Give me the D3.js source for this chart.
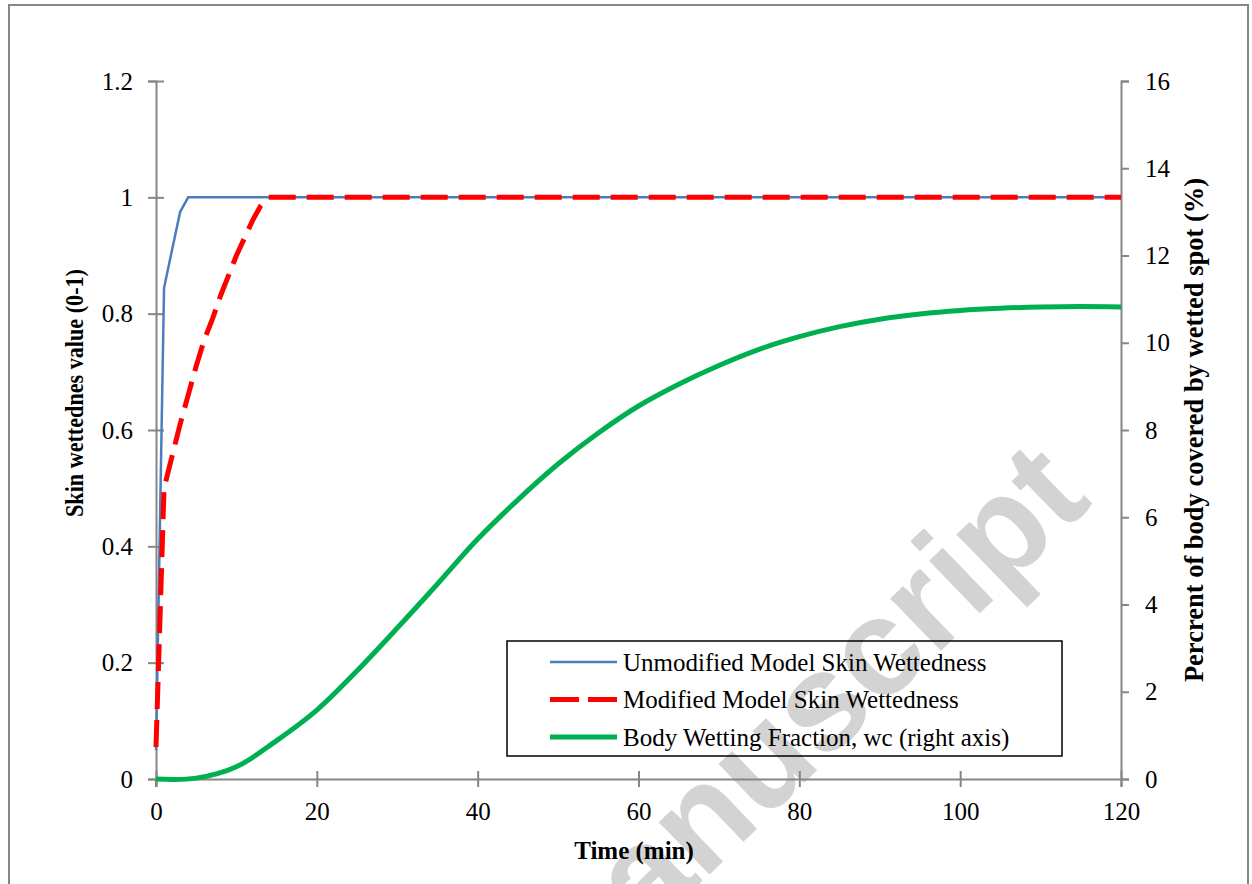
<!DOCTYPE html>
<html>
<head>
<meta charset="utf-8">
<script src="https://cdn.jsdelivr.net/npm/d3@7"></script>
<style>
  body { margin: 0; background: #fff; }
  svg text { font-family: "Liberation Serif", "Times New Roman", serif; fill: #000; }
</style>
</head>
<body>
<div id="chart"></div>
<script>
// time (min) and values
const unmodTime = [0, 1, 2, 3, 4, 120];
const unmodWet = [0.05, 0.844, 0.91, 0.975, 1.0, 1.0];

const modTime = [0, 1, 2, 3, 4, 5, 6, 7, 8, 9, 10, 11, 12, 13, 14, 120];
const modWet = [0.055, 0.5, 0.555, 0.61, 0.66, 0.71, 0.755, 0.79, 0.83, 0.865, 0.9, 0.93, 0.96, 0.985, 1.0, 1.0];

const bodyTime = [0, 5, 10, 15, 20, 25, 30, 35, 40, 45, 50, 55, 60, 65, 70, 75, 80, 85, 90, 95, 100, 105, 110, 115, 120];
const bodyPct = [0, 0.02, 0.28, 0.88, 1.58, 2.48, 3.46, 4.47, 5.5, 6.4, 7.22, 7.93, 8.55, 9.05, 9.48, 9.85, 10.14, 10.37, 10.54, 10.66, 10.74, 10.79, 10.82, 10.83, 10.82];

const xTicks = [0, 20, 40, 60, 80, 100, 120];
const leftTicks = [0, 0.2, 0.4, 0.6, 0.8, 1, 1.2];
const rightTicks = [0, 2, 4, 6, 8, 10, 12, 14, 16];

const legendLabels = [
  "Unmodified Model Skin Wettedness",
  "Modified Model Skin Wettedness",
  "Body Wetting Fraction, wc (right axis)"
];

const W = 1252, H = 884;
const svg = d3.select("#chart").append("svg")
    .attr("width", W)
    .attr("height", H);

// outer frame
svg.append("rect")
    .attr("x", 9).attr("y", 5)
    .attr("width", 1239).attr("height", 920)
    .attr("fill", "none")
    .attr("stroke", "#868686")
    .attr("stroke-width", 2);

// watermark, behind everything
svg.append("text")
    .attr("transform", "translate(1094,503) rotate(-44)")
    .attr("text-anchor", "end")
    .style("font-family", "'Liberation Sans', Arial, sans-serif")
    .style("font-weight", "bold")
    .style("font-size", "138px")
    .style("fill", "#d3d3d3")
    .text("manuscript");

const x = d3.scaleLinear().domain([0, 120]).range([156, 1121]);
const yL = d3.scaleLinear().domain([0, 1.2]).range([779, 81]);
const yR = d3.scaleLinear().domain([0, 16]).range([779, 81]);

const axisColor = "#868686";

// left axis (ticks cross the line)
const gl = svg.append("g")
    .attr("transform", "translate(156,0)")
    .call(d3.axisLeft(yL).tickValues(leftTicks).tickSizeOuter(0).tickSize(8).tickPadding(15)
        .tickFormat(d3.format("")));
gl.selectAll(".tick line").attr("x2", -8).attr("x1", 8);

// bottom axis
const gb = svg.append("g")
    .attr("transform", "translate(0,779)")
    .call(d3.axisBottom(x).tickValues(xTicks).tickSizeOuter(0).tickSize(8));
gb.selectAll(".tick line").attr("y1", -8).attr("y2", 8);
gb.selectAll(".tick text").attr("y", 41).attr("dy", 0);

// right axis (outside ticks only)
const gr = svg.append("g")
    .attr("transform", "translate(1121,0)")
    .call(d3.axisRight(yR).tickValues(rightTicks).tickSizeOuter(0).tickSize(8).tickPadding(16));

[gl, gb, gr].forEach(function(g) {
  g.select(".domain").attr("stroke", axisColor).attr("stroke-width", 2);
  g.selectAll(".tick line").attr("stroke", axisColor).attr("stroke-width", 2);
  g.selectAll(".tick text")
      .style("font-family", "'Liberation Serif', 'Times New Roman', serif")
      .style("font-size", "25px")
      .attr("fill", "#000");
});
// left axis continues down to the x=0 cross tick
svg.append("line")
    .attr("x1", 156).attr("x2", 156)
    .attr("y1", 779).attr("y2", 787)
    .attr("stroke", axisColor).attr("stroke-width", 2);

// axis titles (left one is squeezed in the original)
svg.append("text")
    .attr("transform", "translate(74,393) rotate(-90)")
    .attr("text-anchor", "middle")
    .attr("dominant-baseline", "central")
    .attr("textLength", 248)
    .attr("lengthAdjust", "spacingAndGlyphs")
    .style("font-weight", "bold")
    .style("font-size", "25px")
    .text("Skin wettednes value (0-1)");

svg.append("text")
    .attr("transform", "translate(1194,430) rotate(-90)")
    .attr("text-anchor", "middle")
    .attr("dominant-baseline", "central")
    .style("font-weight", "bold")
    .style("font-size", "26.5px")
    .text("Percrent of body covered by wetted spot (%)");

svg.append("text")
    .attr("x", 634).attr("y", 859)
    .attr("text-anchor", "middle")
    .style("font-weight", "bold")
    .style("font-size", "25px")
    .text("Time (min)");

// series
const lineL = d3.line()
    .x(function(d) { return x(d[0]); })
    .y(function(d) { return yL(d[1]); });
const lineR = d3.line()
    .x(function(d) { return x(d[0]); })
    .y(function(d) { return yR(d[1]); })
    .curve(d3.curveCatmullRom.alpha(0.5));

svg.append("path")
    .datum(bodyTime.map(function(t, i) { return [t, bodyPct[i]]; }))
    .attr("d", lineR)
    .attr("fill", "none")
    .attr("stroke", "#00b050")
    .attr("stroke-width", 5);

svg.append("path")
    .datum(unmodTime.map(function(t, i) { return [t, unmodWet[i]]; }))
    .attr("d", lineL)
    .attr("fill", "none")
    .attr("stroke", "#4a7ebb")
    .attr("stroke-width", 2.5);

svg.append("path")
    .datum(modTime.map(function(t, i) { return [t, modWet[i]]; }))
    .attr("d", lineL)
    .attr("fill", "none")
    .attr("stroke", "#ff0000")
    .attr("stroke-width", 5)
    .attr("stroke-dasharray", "27,11");

// legend
const legend = svg.append("g").attr("transform", "translate(507,641)");
legend.append("rect")
    .attr("width", 555).attr("height", 115)
    .attr("fill", "none")
    .attr("stroke", "#000")
    .attr("stroke-width", 1.5);

const legendStyles = [
  {stroke: "#4a7ebb", width: 2.5, dash: null},
  {stroke: "#ff0000", width: 5, dash: "29,9"},
  {stroke: "#00b050", width: 5, dash: null}
];
legendLabels.forEach(function(label, i) {
  const yy = 21 + i * 37.5;
  legend.append("line")
      .attr("x1", 43).attr("x2", 110)
      .attr("y1", yy).attr("y2", yy)
      .attr("stroke", legendStyles[i].stroke)
      .attr("stroke-width", legendStyles[i].width)
      .attr("stroke-dasharray", legendStyles[i].dash);
  legend.append("text")
      .attr("x", 116).attr("y", yy)
      .attr("dominant-baseline", "central")
      .style("font-size", "25px")
      .text(label);
});
</script>
</body>
</html>
